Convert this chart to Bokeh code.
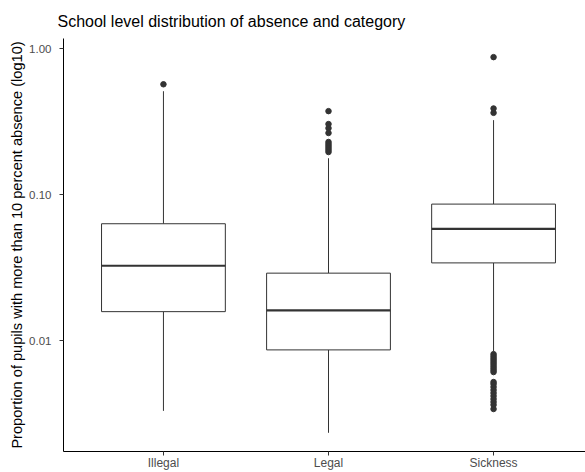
from bokeh.plotting import figure
from bokeh.models import ColumnDataSource, Range1d, FixedTicker, PrintfTickFormatter, Title
from bokeh.transform import dodge
from bokeh.embed import file_html
from bokeh.resources import INLINE

# ---- data ----
categories = ["Illegal", "Legal", "Sickness"]
lower_whisker = [0.00332, 0.00235, 0.00845]
q1 = [0.01586, 0.00868, 0.0342]
median = [0.0327, 0.0162, 0.0584]
q3 = [0.0634, 0.0291, 0.0864]
upper_whisker = [0.512, 0.178, 0.3245]

outliers_illegal = [0.571]
outliers_legal = [0.374, 0.305, 0.286, 0.265, 0.230, 0.2226, 0.2158, 0.2091, 0.2026, 0.1963]
outliers_sickness = [0.876, 0.390, 0.364,
                     0.00812, 0.00786, 0.00762, 0.00739, 0.00716, 0.00694, 0.00672,
                     0.00651, 0.00631, 0.00612, 0.00523, 0.00507, 0.00484, 0.00461,
                     0.00440, 0.00420, 0.00400, 0.00382, 0.00365, 0.00342]

y_ticks = [0.01, 0.1, 1.0]

title_text = "School level distribution of absence and category"
y_label = "Proportion of pupils with more than 10 percent absence (log10)"

# ---- build ----
pos = [i + 1 for i in range(len(categories))]
box_src = ColumnDataSource(dict(x=pos, cat=categories, lw=lower_whisker, q1=q1,
                                med=median, q3=q3, uw=upper_whisker))

out_x, out_y = [], []
for i, vals in enumerate([outliers_illegal, outliers_legal, outliers_sickness]):
    out_x += [pos[i]] * len(vals)
    out_y += vals
out_src = ColumnDataSource(dict(x=out_x, y=out_y))

p = figure(width=585, height=472, output_backend="svg", toolbar_location=None,
           y_axis_type="log",
           x_range=Range1d(0.3945, 3.557), y_range=Range1d(0.00175, 1.175),
           min_border_left=63, min_border_right=0, min_border_top=38, min_border_bottom=19)

p.title = Title(text=title_text, text_font="Liberation Sans", text_font_size="16px",
                text_font_style="normal", text_color="#000000", align="left",
                offset=-6, standoff=17)

line_col = "#333333"
box_w = 0.75

# whiskers
p.segment(x0="x", y0="q3", x1="x", y1="uw", source=box_src, line_color=line_col, line_width=1)
p.segment(x0="x", y0="q1", x1="x", y1="lw", source=box_src, line_color=line_col, line_width=1)
# boxes
p.vbar(x="x", width=box_w, top="q3", bottom="q1", source=box_src,
       fill_color="white", line_color=line_col, line_width=1)
# medians
p.segment(x0=dodge("x", -box_w / 2), y0="med", x1=dodge("x", box_w / 2), y1="med",
          source=box_src, line_color=line_col, line_width=2.2)
# outliers
p.scatter(x="x", y="y", source=out_src, size=5.5, fill_color=line_col, line_color=line_col)

# styling
p.xgrid.visible = False
p.ygrid.visible = False
p.outline_line_color = None
p.background_fill_color = "white"
p.border_fill_color = "white"

xa = p.xaxis[0]
xa.ticker = FixedTicker(ticks=pos)
xa.major_label_overrides = {pos[i]: categories[i] for i in range(len(categories))}
xa.minor_tick_line_color = None
xa.major_tick_in = 0
xa.major_tick_out = 4
xa.major_label_standoff = 0
xa.major_label_text_font = "Liberation Sans"
xa.major_label_text_font_size = "12px"
xa.major_label_text_color = "#4d4d4d"
xa.axis_line_color = "#000000"
xa.major_tick_line_color = "#333333"

ya = p.yaxis[0]
ya.ticker = FixedTicker(ticks=y_ticks)
ya.formatter = PrintfTickFormatter(format="%.2f")
ya.minor_tick_line_color = None
ya.major_tick_in = 0
ya.major_tick_out = 4
ya.major_label_standoff = 8
ya.major_label_text_font = "Liberation Sans"
ya.major_label_text_font_size = "11.5px"
ya.major_label_text_color = "#4d4d4d"
ya.axis_line_color = "#000000"
ya.major_tick_line_color = "#333333"
ya.axis_label = y_label
ya.axis_label_text_font = "Liberation Sans"
ya.axis_label_text_font_size = "14.6px"
ya.axis_label_text_font_style = "normal"
ya.axis_label_text_color = "#000000"
ya.axis_label_standoff = 1

open("out.html", "w").write(file_html(p, INLINE))
